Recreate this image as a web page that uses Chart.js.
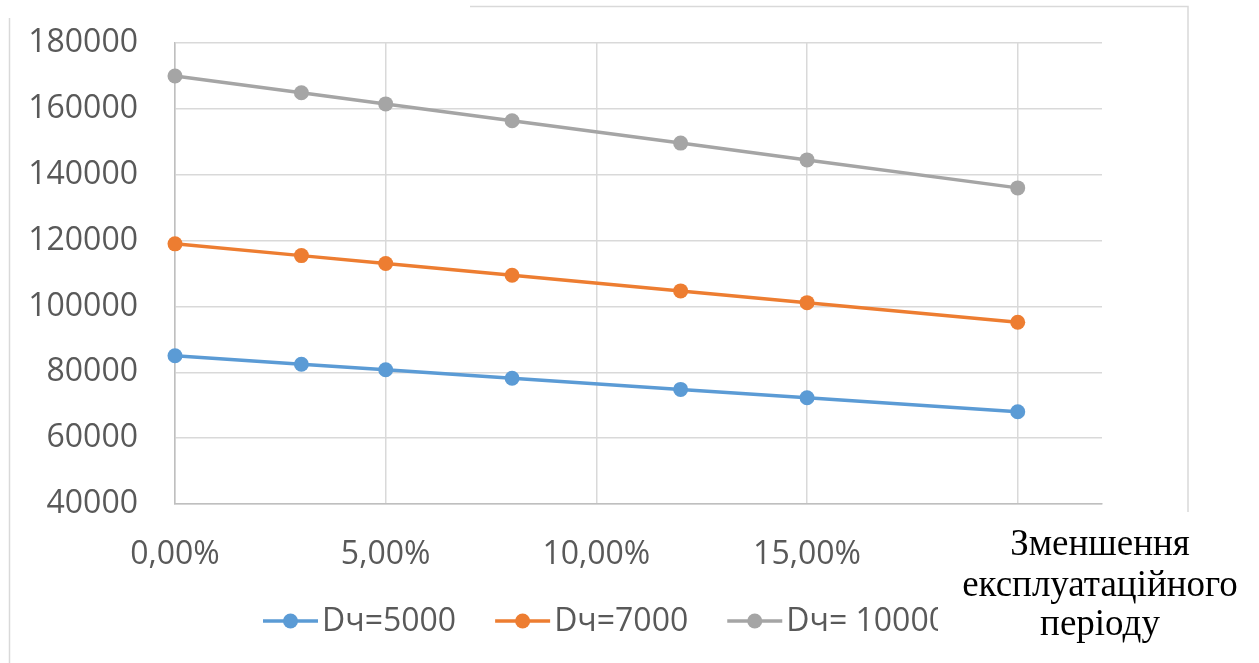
<!DOCTYPE html>
<html>
<head>
<meta charset="utf-8">
<script src="https://cdn.jsdelivr.net/npm/chart.js@4/dist/chart.umd.min.js"></script>
<style>
    html, body { margin: 0; padding: 0; background: #fff; }
    #wrap { width: 1259px; height: 663px; position: relative; }
</style>
</head>
<body>
<div id="wrap"><canvas id="myChart"></canvas></div>
<script>
"use strict";

//region Data
let xValues = [0, 0.03, 0.05, 0.08, 0.12, 0.15, 0.20];
let xTicks = [0, 0.05, 0.10, 0.15, 0.20];
let yTicks = [40000, 60000, 80000, 100000, 120000, 140000, 160000, 180000];
let d5000 = [85000, 82450, 80750, 78200, 74800, 72250, 68000];
let d7000 = [119000, 115430, 113050, 109480, 104720, 101150, 95200];
let d10000 = [170000, 164900, 161500, 156400, 149600, 144500, 136000];
let seriesNames = ["Dч=5000", "Dч=7000", "Dч= 10000"];
let seriesColors = ["#5B9BD5", "#ED7D31", "#A5A5A5"];
let axisTitle = ["Зменшення", "експлуатаційного", "періоду"];
//endregion

//region Helpers
function points(values) {
    let out = [];
    for (let i = 0; i < xValues.length; i++) {
        out.push({x: xValues[i], y: values[i]});
    }
    return out;
}

function makeDataset(label, values, color) {
    return {
        label: label,
        data: points(values),
        borderColor: color,
        backgroundColor: color,
        borderWidth: 3.5,
        pointRadius: 7.5,
        pointHoverRadius: 7.5,
        pointBorderWidth: 0,
        tension: 0,
        clip: false
    };
}

function pct(v) {
    return (v * 100).toFixed(2).replace(".", ",") + "%";
}
//endregion

//region Plugins
// outer frame pieces, axis title and legend are drawn by hand
let decorations = {
    id: "decorations",
    afterDraw: function (chart) {
        let ctx = chart.ctx;
        ctx.save();

        ctx.strokeStyle = "#d9d9d9";
        ctx.lineWidth = 1.5;
        ctx.beginPath();
        ctx.moveTo(9.5, 18);
        ctx.lineTo(9.5, 663);
        ctx.moveTo(470, 6.5);
        ctx.lineTo(1188, 6.5);
        ctx.lineTo(1188, 512);
        ctx.stroke();

        // legend
        ctx.save();
        ctx.beginPath();
        ctx.rect(0, 580, 938, 83);
        ctx.clip();
        ctx.font = "32px 'Open Sans'";
        ctx.textBaseline = "middle";
        ctx.textAlign = "left";
        let x = 263;
        let y = 621;
        for (let i = 0; i < seriesNames.length; i++) {
            ctx.strokeStyle = seriesColors[i];
            ctx.fillStyle = seriesColors[i];
            ctx.lineWidth = 3.5;
            ctx.beginPath();
            ctx.moveTo(x, y);
            ctx.lineTo(x + 55, y);
            ctx.stroke();
            ctx.beginPath();
            ctx.arc(x + 27.5, y, 7.5, 0, Math.PI * 2);
            ctx.fill();
            ctx.fillStyle = "#595959";
            ctx.fillText(seriesNames[i], x + 59, y + 1);
            x += 59 + ctx.measureText(seriesNames[i]).width + 39;
        }
        ctx.restore();

        // axis title
        ctx.fillStyle = "#000";
        ctx.font = "37px 'Liberation Serif'";
        ctx.textAlign = "center";
        ctx.textBaseline = "alphabetic";
        let baselines = [555, 596, 635];
        for (let i = 0; i < axisTitle.length; i++) {
            ctx.fillText(axisTitle[i], 1100, baselines[i]);
        }
        ctx.restore();
    }
};
//endregion

//region Main
let newChart = new Chart(document.getElementById("myChart"), {
    type: "line",
    data: {
        datasets: [
            makeDataset(seriesNames[0], d5000, seriesColors[0]),
            makeDataset(seriesNames[1], d7000, seriesColors[1]),
            makeDataset(seriesNames[2], d10000, seriesColors[2])
        ]
    },
    options: {
        responsive: true,
        maintainAspectRatio: false,
        animation: false,
        layout: {padding: {top: 43, right: 157, bottom: 0, left: 0}},
        plugins: {
            legend: {display: false},
            tooltip: {enabled: false}
        },
        scales: {
            x: {
                type: "linear",
                min: 0,
                max: 0.22,
                afterBuildTicks: function (axis) {
                    axis.ticks = xTicks.map(function (v) { return {value: v}; });
                },
                afterFit: function (axis) { axis.height = 159; },
                grid: {color: "#d9d9d9", lineWidth: 1.5, drawTicks: false},
                border: {color: "#bfbfbf", width: 1.5},
                ticks: {
                    padding: 32,
                    color: "#595959",
                    font: {family: "'Open Sans'", size: 32},
                    maxRotation: 0,
                    callback: function (v) {
                        // last label is hidden under the axis title
                        if (Math.abs(v - 0.20) < 1e-9) return "";
                        return pct(v);
                    }
                }
            },
            y: {
                min: 40000,
                max: 180000,
                afterBuildTicks: function (axis) {
                    axis.ticks = yTicks.map(function (v) { return {value: v}; });
                },
                afterFit: function (axis) {
                    axis.width = 175;
                    axis.paddingTop = 0;
                    axis.paddingBottom = 0;
                },
                grid: {color: "#d9d9d9", lineWidth: 1.5, drawTicks: false},
                border: {color: "#bfbfbf", width: 1.5},
                ticks: {
                    padding: 37,
                    color: "#595959",
                    font: {family: "'Open Sans'", size: 32},
                    callback: function (v) { return String(v); }
                }
            }
        }
    },
    plugins: [decorations]
});
//endregion
</script>
</body>
</html>
